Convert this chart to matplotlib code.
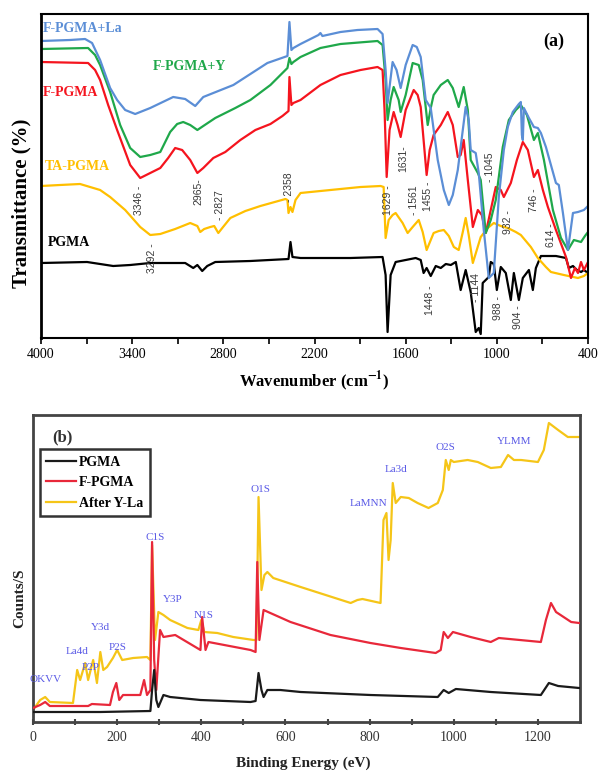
import matplotlib
matplotlib.use("Agg")
import matplotlib.pyplot as plt

plt.rcParams['font.family'] = ['Liberation Serif', 'DejaVu Serif']
plt.rcParams['mathtext.fontset'] = 'stix'

# ---------------- (a) FTIR ----------------
pgma_w = [4000, 3697, 3611, 3525, 3413, 3281, 3051, 2998, 2971, 2939, 2906, 2853, 2622, 2371, 2358, 2345,
          2292, 1963, 1752, 1732, 1719, 1699, 1666, 1534, 1501, 1482, 1462, 1435, 1402, 1369, 1336, 1303,
          1270, 1238, 1205, 1172, 1139, 1119, 1106, 1093, 1053, 1040, 1020, 1000, 974, 941, 908, 888, 855,
          829, 789, 763, 743, 710, 611, 545, 526, 499, 473, 446, 427, 400]
pgma_t = [75, 76, 74, 72, 73, 75, 75, 70, 73, 67, 72, 76, 77, 79, 96, 81,
          80, 80, 81, 63, 6, 63, 76, 80, 78, 65, 70, 62, 72, 70, 74, 73,
          76, 48, 68, 46, 6, 10, 4, 55, 61, 76, 74, 48, 71, 65, 38, 65, 38,
          60, 68, 48, 70, 82, 82, 80, 70, 72, 68, 66, 68, 65]

ta_w = [4000, 3875, 3743, 3677, 3611, 3545, 3446, 3347, 3281, 3215, 3117, 3018, 2971, 2952, 2926, 2886,
        2860, 2833, 2807, 2754, 2655, 2556, 2391, 2378, 2371, 2358, 2345, 2325, 2292, 2095, 1897, 1765,
        1745, 1732, 1712, 1686, 1666, 1620, 1587, 1554, 1514, 1488, 1462, 1416, 1382, 1349, 1316, 1283,
        1251, 1224, 1205, 1185, 1158, 1132, 1106, 1060, 1020, 974, 928, 875, 842, 776, 730, 677, 644,
        559, 466, 427, 400]
ta_t = [152, 153, 154, 151, 148, 141, 128, 111, 103, 104, 109, 115, 112, 106, 109, 111,
        112, 105, 110, 120, 127, 132, 139, 138, 125, 131, 126, 138, 145, 148, 151, 152,
        151, 100, 118, 123, 125, 115, 105, 111, 118, 106, 88, 105, 107, 108, 102, 91,
        88, 106, 120, 103, 75, 88, 101, 110, 115, 112, 110, 106, 103, 91, 80, 71, 66,
        63, 60, 62, 65]

f_w = [4000, 3690, 3644, 3611, 3558, 3499, 3413, 3347, 3281, 3215, 3163, 3117, 3071, 3018, 2971, 2932,
       2866, 2787, 2688, 2589, 2490, 2411, 2371, 2365, 2352, 2339, 2292, 2161, 2029, 1897, 1785, 1752,
       1739, 1725, 1706, 1679, 1653, 1633, 1600, 1547, 1521, 1501, 1482, 1462, 1442, 1416, 1369, 1323,
       1290, 1257, 1238, 1218, 1191, 1158, 1125, 1099, 1073, 1040, 1007, 974, 954, 908, 868, 829, 796,
       756, 730, 697, 664, 611, 545, 512, 486, 466, 446, 427, 400]
f_t = [276, 275, 268, 258, 233, 208, 173, 160, 165, 170, 180, 190, 188, 178, 165, 170,
       180, 186, 198, 208, 214, 222, 227, 261, 233, 235, 238, 253, 263, 268, 271, 268,
       228, 161, 208, 226, 213, 201, 228, 248, 243, 231, 198, 163, 188, 203, 213, 226,
       213, 181, 183, 198, 158, 111, 128, 123, 105, 128, 151, 148, 141, 155, 178, 196, 188,
       161, 168, 148, 131, 108, 81, 60, 70, 65, 76, 68, 76]

fy_w = [4000, 3690, 3644, 3611, 3545, 3479, 3413, 3347, 3281, 3215, 3150, 3104, 3064, 3018, 2971, 2932,
        2853, 2721, 2622, 2490, 2378, 2365, 2352, 2339, 2292, 2161, 2029, 1785, 1752, 1732, 1719, 1699,
        1679, 1646, 1633, 1600, 1554, 1514, 1488, 1455, 1435, 1416, 1369, 1323, 1290, 1251, 1218, 1191,
        1172, 1125, 1106, 1073, 1040, 1007, 961, 921, 875, 842, 802, 756, 730, 690, 631, 578, 532, 493,
        446, 420, 400]
fy_t = [289, 290, 283, 273, 246, 213, 190, 181, 183, 186, 206, 214, 216, 213, 208, 212,
        220, 230, 238, 253, 270, 280, 274, 276, 281, 290, 294, 297, 293, 258, 218, 238,
        251, 238, 226, 243, 275, 273, 258, 213, 230, 243, 253, 258, 250, 231, 251, 228,
        178, 165, 158, 105, 118, 138, 191, 218, 228, 233, 223, 198, 205, 178, 128, 100, 88, 98,
        96, 102, 106]

fla_w = [4000, 3809, 3710, 3664, 3611, 3545, 3499, 3446, 3380, 3281, 3130, 3051, 2985, 2932, 2734, 2510,
         2378, 2365, 2352, 2339, 2292, 2174, 2161, 2148, 2029, 1917, 1785, 1752, 1732, 1719, 1686, 1660,
         1633, 1600, 1554, 1527, 1501, 1468, 1435, 1389, 1349, 1316, 1290, 1257, 1224, 1205, 1185, 1172,
         1139, 1119, 1086, 1053, 1020, 987, 954, 928, 895, 855, 842, 835, 829, 822, 789, 756, 730, 710,
         677, 644, 611, 592, 565, 532, 499, 466, 427, 400]
fla_t = [297, 298, 299, 295, 278, 250, 238, 228, 224, 230, 241, 239, 232, 241, 253, 275,
         282, 316, 288, 290, 294, 303, 305, 302, 306, 308, 309, 304, 268, 235, 276, 268,
         250, 273, 293, 291, 281, 238, 230, 178, 148, 133, 143, 168, 208, 231, 218, 188,
         185, 165, 108, 60, 65, 141, 188, 211, 226, 234, 236, 203, 198, 230, 220, 211, 210, 205,
         191, 173, 155, 153, 125, 88, 125, 126, 128, 132]

ftir_labels = ["F-PGMA+La", "F-PGMA+Y", "F-PGMA", "TA-PGMA", "PGMA"]
ftir_colors = ["#5b8ed6", "#1fa84a", "#f5141e", "#ffbf00", "#000000"]

peak_text = ["3346 -", "2965-", "- 2827", "- 2358", "3292 -", "1629 -", "1631-", "- 1561", "1455 -",
             "- 1045", "932 -", "746 -", "614 -", "1448 -", "- 1144", "988 -", "904 -"]
peak_x = [3354, 2965, 2820, 2365, 3268, 1719, 1613, 1547, 1455, 1046, 928, 756, 644, 1442, 1139, 994, 862]
peak_y = [138, 146, 133, 151, 80, 138, 179, 138, 142, 171, 116, 138, 103, 38, 50, 30, 21]

# ---------------- (b) XPS ----------------
xps_pgma_e = [0, 64, 160, 279, 283, 288, 293, 298, 310, 326, 398, 517, 529, 536, 543, 548, 557, 588, 636,
              802, 962, 976, 988, 1005, 1088, 1207, 1226, 1248, 1298]
xps_pgma_c = [10, 10, 10, 11, 32, 52, 22, 15, 27, 25, 22, 20, 21, 49, 32, 25, 32, 32, 30,
              27, 25, 32, 29, 33, 30, 27, 39, 36, 34]

xps_f_e = [0, 17, 29, 40, 131, 140, 183, 190, 198, 205, 214, 255, 264, 271, 279, 283, 288, 293, 302, 310,
           338, 386, 398, 402, 410, 417, 517, 529, 533, 538, 548, 564, 612, 707, 802, 874, 957, 969, 976,
           986, 998, 1040, 1088, 1107, 1207, 1219, 1231, 1243, 1279, 1298]
xps_f_c = [14, 17, 20, 16, 16, 18, 17, 30, 39, 22, 27, 27, 42, 27, 32, 180, 62, 32, 92, 85,
           87, 75, 72, 105, 72, 80, 72, 70, 160, 82, 112, 109, 100, 87, 79, 74, 69, 72, 90,
           84, 90, 85, 80, 84, 80, 102, 119, 110, 100, 99]

xps_yla_e = [0, 17, 29, 40, 95, 105, 112, 124, 131, 143, 152, 160, 167, 176, 190, 200, 212, 238, 271, 279,
             283, 290, 298, 302, 310, 326, 367, 393, 400, 407, 438, 476, 524, 531, 536, 543, 550, 557, 571,
             636, 755, 771, 783, 826, 833, 840, 845, 850, 855, 862, 874, 893, 914, 940, 962, 974, 981, 988,
             993, 1000, 1033, 1057, 1088, 1112, 1129, 1143, 1160, 1200, 1214, 1226, 1248, 1271, 1300]
xps_yla_c = [12, 22, 25, 20, 19, 52, 42, 59, 42, 62, 39, 70, 52, 55, 64, 72, 62, 64, 65, 62,
             177, 82, 110, 109, 107, 102, 94, 92, 102, 90, 89, 85, 82, 82, 225, 132, 147, 150, 144,
             135, 119, 122, 123, 119, 202, 209, 162, 182, 239, 219, 225, 224, 219, 214, 219, 232, 262, 252,
             262, 260, 262, 260, 254, 255, 267, 262, 262, 260, 272, 299, 292, 285, 285]

xps_names = ["PGMA", "F-PGMA", "After Y-La"]
xps_colors = ["#1a1a1a", "#e8283a", "#f5c518"]

xps_text = ["OKVV", "La4d", "Y3d", "P2P", "P2S", "Y3P", "N1S", "C1S", "O1S", "LaMNN", "La3d", "O2S", "YLMM"]
xps_tx = [29, 105, 160, 136, 202, 331, 405, 290, 540, 798, 862, 981, 1143]
xps_ty = [42, 70, 94, 54, 75, 122, 107, 185, 232, 219, 252, 275, 280]

fig = plt.figure(figsize=(5.98, 7.73), dpi=100)

# panel a
ax1 = fig.add_axes([41 / 598, 1 - 338 / 773, 547 / 598, 324 / 773])
series = [(pgma_w, pgma_t, 4), (ta_w, ta_t, 3), (f_w, f_t, 2), (fy_w, fy_t, 1), (fla_w, fla_t, 0)]
for w, t, i in series:
    ax1.plot(w, t, color=ftir_colors[i], lw=1.6)
ax1.set_xlim(4000, 400)
ax1.set_ylim(0, 324)
ax1.set_xticks([4000, 3400, 2800, 2200, 1600, 1000, 400])
ax1.set_xticks([3700, 3100, 2500, 1900, 1300, 700], minor=True)
ax1.set_yticks([])
ax1.tick_params(axis='x', which='both', direction='out', length=4, width=1.2, labelsize=10, pad=3)
for s in ax1.spines.values():
    s.set_linewidth(1.5)
    s.set_color('black')
ax1.spines['left'].set_linewidth(2)

for txt, x, y in zip(peak_text, peak_x, peak_y):
    ax1.text(x, y, txt, rotation=90, ha='center', va='center', fontsize=7.5,
             color='#3a3a3a', family=['Liberation Sans', 'DejaVu Sans'])

name_pos = [(3987, 310), (3262, 272), (3987, 245), (3974, 171), (3954, 95)]
for i, (x, y) in enumerate(name_pos):
    ax1.text(x, y, ftir_labels[i], color=ftir_colors[i], fontsize=10, fontweight='bold', va='center')
ax1.text(626, 297, "(a)", fontsize=13, fontweight='bold', ha='center', va='center')

fig.text(21 / 598, 1 - 203 / 773, "Transmittance (%)", rotation=90, ha='center', va='center',
         fontsize=15, fontweight='bold')
fig.text(314 / 598, 1 - 381 / 773, r"Wavenumber (cm$^{\mathbf{-1}}$)", ha='center', va='center',
         fontsize=12, fontweight='bold')

# panel b
ax2 = fig.add_axes([33 / 598, 1 - 722 / 773, 547 / 598, 307 / 773])
xps = [(xps_pgma_e, xps_pgma_c, 4), (xps_f_e, xps_f_c, 3), (xps_yla_e, xps_yla_c, 2)]
handles = []
for i, (e, c, z) in enumerate(xps):
    h, = ax2.plot(e, c, color=xps_colors[i], lw=1.6, zorder=z, label=xps_names[i])
    handles.append(h)
ax2.set_xlim(0, 1300)
ax2.set_ylim(0, 307)
ax2.set_xticks([0, 200, 400, 600, 800, 1000, 1200])
ax2.set_xticks([100, 300, 500, 700, 900, 1100], minor=True)
ax2.set_yticks([])
ax2.tick_params(axis='x', which='both', direction='inout', length=5, width=1.5, labelsize=10,
                pad=4, labelcolor='#333333', color='#444444')
for s in ax2.spines.values():
    s.set_linewidth(2)
    s.set_color('#444444')

for txt, x, y in zip(xps_text, xps_tx, xps_ty):
    ax2.text(x, y, txt, ha='center', va='center', fontsize=8, color='#5a5ae6', clip_on=False)
ax2.text(69, 285, "(b)", fontsize=12, fontweight='bold', ha='center', va='center', color='#333333')

leg = ax2.legend(handles=handles, loc='upper left', bbox_to_anchor=(0.012, 0.888), borderaxespad=0,
                 fancybox=False, edgecolor='#333333', framealpha=1, handlelength=2.2,
                 handletextpad=0.2, labelspacing=0.55, borderpad=0.45,
                 prop={'family': 'Liberation Serif', 'weight': 'bold', 'size': 10})
leg.get_frame().set_linewidth(1.8)

fig.text(20 / 598, 1 - 598 / 773, "Counts/S", rotation=90, ha='center', va='center',
         fontsize=11, fontweight='bold', color='#222222')
fig.text(303 / 598, 1 - 763 / 773, "Binding Energy (eV)", ha='center', va='center',
         fontsize=11, fontweight='bold', color='#222222')

fig.savefig("out.png", dpi=100)
